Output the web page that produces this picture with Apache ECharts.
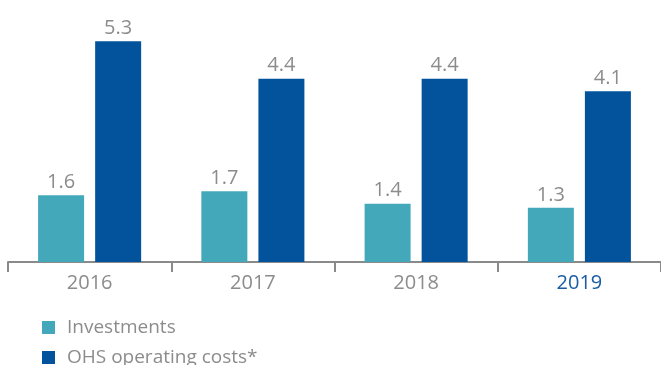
<!DOCTYPE html>
<html>
<head>
<meta charset="utf-8">
<script src="https://cdn.jsdelivr.net/npm/echarts@6/dist/echarts.min.js"></script>
<style>
html,body{margin:0;padding:0;background:#fff;}
#chart{width:661px;height:365px;}
</style>
</head>
<body>
<div id="chart"></div>
<script>
const categories = ['2016', '2017', '2018', '2019'];
const investments = [1.6, 1.7, 1.4, 1.3];
const ohsCosts = [5.3, 4.4, 4.4, 4.1];
const seriesNames = ['Investments', 'OHS operating costs*'];

const gray = '#8c8c8c';
const font = '"Open Sans", "Noto Sans", sans-serif';
const chart = echarts.init(document.getElementById('chart'));
const labelCfg = {
  show: true, position: 'top', distance: 3,
  color: gray, fontSize: 20, fontFamily: font,
  formatter: p => p.value.toFixed(1)
};
const legendBase = {
  orient: 'vertical', left: 37,
  itemWidth: 13, itemHeight: 13,
  icon: 'rect',
  textStyle: { color: gray, fontSize: 19, fontFamily: font, padding: [0, 0, 0, 7] }
};
chart.setOption({
  animation: false,
  grid: { left: 8, right: -3, top: 12, bottom: 103, containLabel: false },
  legend: [
    Object.assign({}, legendBase, { top: 313, data: [seriesNames[0]] }),
    Object.assign({}, legendBase, { top: 343, data: [seriesNames[1]] })
  ],
  xAxis: {
    type: 'category', data: categories,
    axisLine: { lineStyle: { color: '#8a8a8a', width: 2 } },
    axisTick: { show: true, length: 10, lineStyle: { color: '#8a8a8a', width: 2 } },
    axisLabel: {
      margin: 11, fontSize: 20, fontFamily: font,
      color: (v, i) => i === 3 ? '#1a5ca3' : gray
    }
  },
  yAxis: { type: 'value', min: 0, max: 6, show: false, splitLine: { show: false } },
  series: [
    { name: seriesNames[0], type: 'bar', data: investments, barWidth: 46, barGap: '24%',
      itemStyle: { color: '#43a8ba' }, label: labelCfg },
    { name: seriesNames[1], type: 'bar', data: ohsCosts, barWidth: 46,
      itemStyle: { color: '#02539b' }, label: labelCfg }
  ]
});
</script>
</body>
</html>
